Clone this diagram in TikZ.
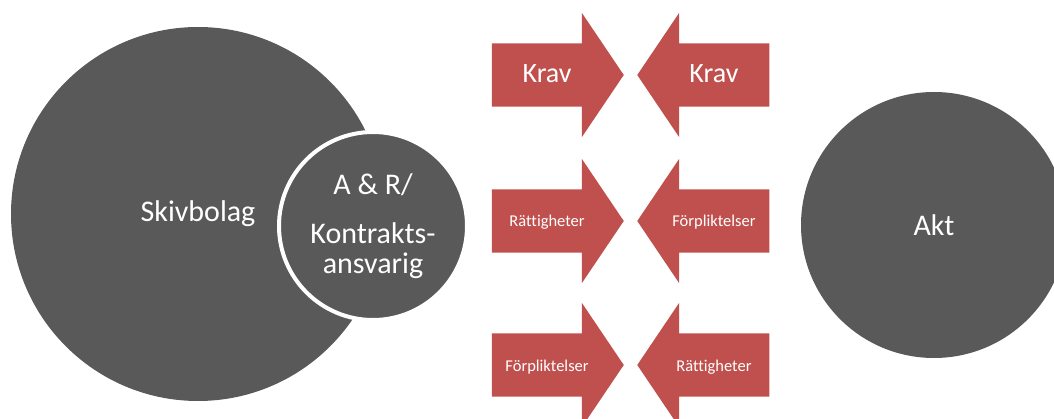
\documentclass[tikz,border=0pt]{standalone}
\usepackage{fontspec}
\setmainfont{Carlito}[Ligatures=NoCommon]
\usetikzlibrary{shapes.arrows}
\definecolor{circgray}{HTML}{595959}
\definecolor{arrred}{HTML}{C0504D}

\begin{document}
\begin{tikzpicture}
[x=1pt,y=-1pt,
 big node/.style={circle,fill=circgray,text=white,inner sep=0pt,font=\fontsize{30}{30}\selectfont},
 arrow node/.style={single arrow,fill=arrred,inner xsep=0pt,inner ysep=31.5pt,minimum height=132pt,
   single arrow head extend=30.5pt,single arrow tip angle=112,anchor=tip},
 back/.style={shape border rotate=180},
 arrow text/.style={text=white,inner sep=0pt,anchor=base},
 large text/.style={arrow text,font=\fontsize{28}{28}\selectfont},
 small text/.style={arrow text,font=\fontsize{16.5}{16.5}\selectfont}]
  \useasboundingbox (0,0) rectangle (1054,419);

  \node[big node,minimum size=374pt] (skiv) at (198,214) {Skivbolag};
  \node[big node,minimum size=188pt,draw=white,line width=4pt,align=center] (ar) at (373,226)
    {A \& R/\\[19pt]Kontrakts-\\ansvarig};
  \node[big node,minimum size=266pt] (akt) at (934,225) {Akt};

  % arrows, pointing at each other
  \node[arrow node] (krav1) at (624,75) {};
  \node[arrow node,back] (krav2) at (637,75) {};
  \node[arrow node] (ratt1) at (624,221) {};
  \node[arrow node,back] (forp1) at (637,221) {};
  \node[arrow node] (forp2) at (624,365) {};
  \node[arrow node,back] (ratt2) at (637,365) {};

  \node[large text] (krav1t) at ([yshift=-8pt]krav1.center) {Krav};
  \node[large text] (krav2t) at ([yshift=-8pt]krav2.center) {Krav};
  \node[small text] (ratt1t) at ([yshift=-5.5pt]ratt1.center) {Rättigheter};
  \node[small text] (forp1t) at ([yshift=-5.5pt]forp1.center) {Förpliktelser};
  \node[small text] (forp2t) at ([yshift=-6.5pt]forp2.center) {Förpliktelser};
  \node[small text] (ratt2t) at ([yshift=-6.5pt]ratt2.center) {Rättigheter};
\end{tikzpicture}
\end{document}
